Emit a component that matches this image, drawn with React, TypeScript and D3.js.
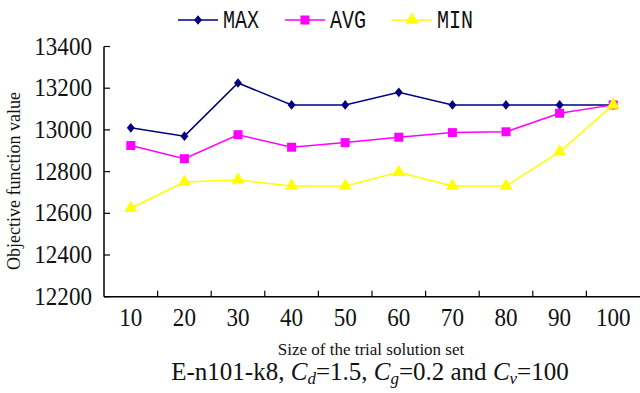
import * as d3 from 'd3';

// trial solution set sizes
const sizes = ['10', '20', '30', '40', '50', '60', '70', '80', '90', '100'];
const maxValues = [13010, 12970, 13225, 13120, 13120, 13180, 13120, 13120, 13120, 13120];
const avgValues = [12925, 12862, 12977, 12917, 12939, 12965, 12987, 12991, 13080, 13120];
const minValues = [12624, 12750, 12760, 12731, 12731, 12797, 12731, 12731, 12895, 13120];
const yTicks = [12200, 12400, 12600, 12800, 13000, 13200, 13400];

// wider diamond than d3.symbolDiamond
const diamond = { draw(ctx: d3.Path, size: number) { const r = Math.sqrt(size) / 2; ctx.moveTo(0, -r * 1.15); ctx.lineTo(r * 0.95, 0); ctx.lineTo(0, r * 1.15); ctx.lineTo(-r * 0.95, 0); ctx.closePath(); } };

const series = [
  { name: 'MAX', values: maxValues, color: '#000080', symbol: diamond, size: 70 },
  { name: 'AVG', values: avgValues, color: '#ff00ff', symbol: d3.symbolSquare, size: 81 },
  { name: 'MIN', values: minValues, color: '#ffff00', symbol: d3.symbolTriangle, size: 75 },
];

const W = 640;
const H = 393;
const left = 104;
const right = 640;
const top = 46.5;
const bottom = 296.7;

export default function App() {
  const x = d3.scaleBand<string>().domain(sizes).range([left, right]).padding(0);
  const y = d3.scaleLinear().domain([12200, 13400]).range([bottom, top]);
  const line = d3.line<number>()
    .x((_, i) => (x(sizes[i]) ?? 0) + x.bandwidth() / 2)
    .y(d => y(d));

  const serif = 'Liberation Serif, Times New Roman, DejaVu Serif, serif';

  return (
    <svg width={W} height={H} style={{ position: 'absolute', left: 0, top: 0, background: '#fff' }}>
      {/* legend */}
      {series.map((s, i) => {
        const lx = 178 + i * 107;
        return (
          <g key={s.name}>
            <line x1={lx} x2={lx + 40} y1={20} y2={20} stroke={s.color} strokeWidth={1.5} />
            <path d={d3.symbol().type(s.symbol).size(s.size)() ?? ''} transform={`translate(${lx + 20},20)`} fill={s.color} />
            <text x={0} y={0} fontFamily="Liberation Mono, Courier New, monospace" fontSize={20}
              transform={`translate(${lx + 45},28) scale(1,1.3)`} fill="#111">{s.name}</text>
          </g>
        );
      })}

      {/* axes */}
      <line x1={left} x2={left} y1={top} y2={bottom} stroke="#000" strokeWidth={1.5} />
      <line x1={left} x2={right} y1={bottom} y2={bottom} stroke="#000" strokeWidth={1.5} />
      {yTicks.map(t => (
        <g key={t}>
          <line x1={left} x2={left + 6} y1={y(t)} y2={y(t)} stroke="#000" strokeWidth={1.2} />
          <text x={0} y={0} textAnchor="end" fontFamily={serif} fontSize={22}
            transform={`translate(92,${y(t) + 8}) scale(1.05,1.12)`} fill="#111">{t}</text>
        </g>
      ))}
      {sizes.map((s, i) => (
        <g key={s}>
          {i > 0 && <line x1={x(s)} x2={x(s)} y1={bottom} y2={bottom - 6} stroke="#000" strokeWidth={1.2} />}
          <text x={0} y={0} textAnchor="middle" fontFamily={serif} fontSize={22}
            transform={`translate(${(x(s) ?? 0) + x.bandwidth() / 2},326) scale(1.05,1.12)`} fill="#111">{s}</text>
        </g>
      ))}

      {/* series */}
      {series.map(s => (
        <g key={s.name}>
          <path d={line(s.values) ?? ''} fill="none" stroke={s.color} strokeWidth={1.5} />
          {s.values.map((v, i) => (
            <path key={i} d={d3.symbol().type(s.symbol).size(s.size)() ?? ''}
              transform={`translate(${(x(sizes[i]) ?? 0) + x.bandwidth() / 2},${y(v)})`} fill={s.color} />
          ))}
        </g>
      ))}

      {/* axis titles */}
      <text transform="translate(20,181) rotate(-90)" textAnchor="middle" fontFamily={serif} fontSize={18} fill="#111">
        Objective function value
      </text>
      <text x={371} y={355} textAnchor="middle" fontFamily={serif} fontSize={17} fill="#111">
        Size of the trial solution set
      </text>
      <text x={370} y={380} textAnchor="middle" fontFamily={serif} fontSize={25} fill="#111">
        E-n101-k8, <tspan fontStyle="italic">C</tspan><tspan fontStyle="italic" fontSize={17} dy={4}>d</tspan>
        <tspan dy={-4}>=1.5, </tspan><tspan fontStyle="italic">C</tspan><tspan fontStyle="italic" fontSize={17} dy={4}>g</tspan>
        <tspan dy={-4}>=0.2 and </tspan><tspan fontStyle="italic">C</tspan><tspan fontStyle="italic" fontSize={17} dy={4}>v</tspan>
        <tspan dy={-4}>=100</tspan>
      </text>
    </svg>
  );
}
